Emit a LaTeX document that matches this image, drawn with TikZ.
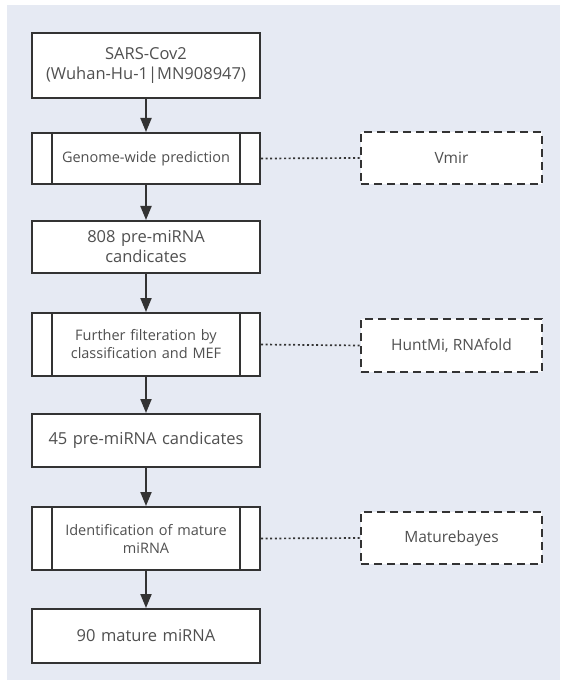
\documentclass[tikz,border=0pt]{standalone}
\usepackage{fontspec}
\setmainfont{Open Sans}
\usetikzlibrary{arrows.meta}
\definecolor{panel}{HTML}{E6EAF3}
\definecolor{linec}{HTML}{333333}
\definecolor{txtc}{HTML}{505050}
\begin{document}
\begin{tikzpicture}[x=1pt,y=-1pt,
  box/.style={draw=linec,line width=2pt,fill=white,minimum width=228pt,
    text width=220pt,align=center,inner sep=0pt,text=txtc,font=\fontsize{16.5}{20}\selectfont},
  procbox/.style={box,font=\fontsize{14.5}{18}\selectfont},
  toolbox/.style={draw=linec,line width=1.7pt,dash pattern=on 8pt off 5pt,fill=white,
    minimum width=181pt,minimum height=52pt,inner sep=0pt,text=txtc,font=\fontsize{15.5}{19}\selectfont},
  flow/.style={draw=linec,line width=2pt,-{Triangle[length=14pt,width=11pt]}},
  link/.style={draw=linec,line width=1.7pt,dash pattern=on 2pt off 2.6pt}
]
\useasboundingbox (0,0) rectangle (560,684);
\fill[panel] (7,5) rectangle (560,680);

\node[box,minimum height=65pt] (b1) at (146,65.5) {SARS-Cov2\\(Wuhan-Hu-1|MN908947)};
\node[procbox,minimum height=51pt] (b2) at (146,158.5) {Genome-wide prediction};
\node[box,minimum height=52pt] (b3) at (146,247) {808 pre-miRNA\\candicates};
\node[procbox,minimum height=63pt] (b4) at (146,344.5) {Further filteration by\\classification and MEF};
\node[box,minimum height=53pt] (b5) at (146,440.5) {45 pre-miRNA candicates};
\node[procbox,minimum height=63pt] (b6) at (146,538.5) {Identification of mature\\miRNA};
\node[box,minimum height=54pt] (b7) at (146,636) {90 mature miRNA};

\foreach \n in {b2,b4,b6}{
  \draw[linec,line width=2pt] ([xshift=21pt]\n.north west) -- ([xshift=21pt]\n.south west);
  \draw[linec,line width=2pt] ([xshift=-21pt]\n.north east) -- ([xshift=-21pt]\n.south east);
}

\node[toolbox] (d1) at (451.5,158) {Vmir};
\node[toolbox,minimum height=53pt] (d2) at (451.5,345.5) {HuntMi, RNAfold};
\node[toolbox] (d3) at (451.5,538) {Maturebayes};

\draw[flow] (b1) -- (b2);
\draw[flow] (b2) -- (b3);
\draw[flow] (b3) -- (b4);
\draw[flow] (b4) -- (b5);
\draw[flow] (b5) -- (b6);
\draw[flow] (b6) -- (b7);

\draw[link] (b2.east) -- (d1.west);
\draw[link] (b4.east) -- (d2.west);
\draw[link] (b6.east) -- (d3.west);
\end{tikzpicture}
\end{document}
